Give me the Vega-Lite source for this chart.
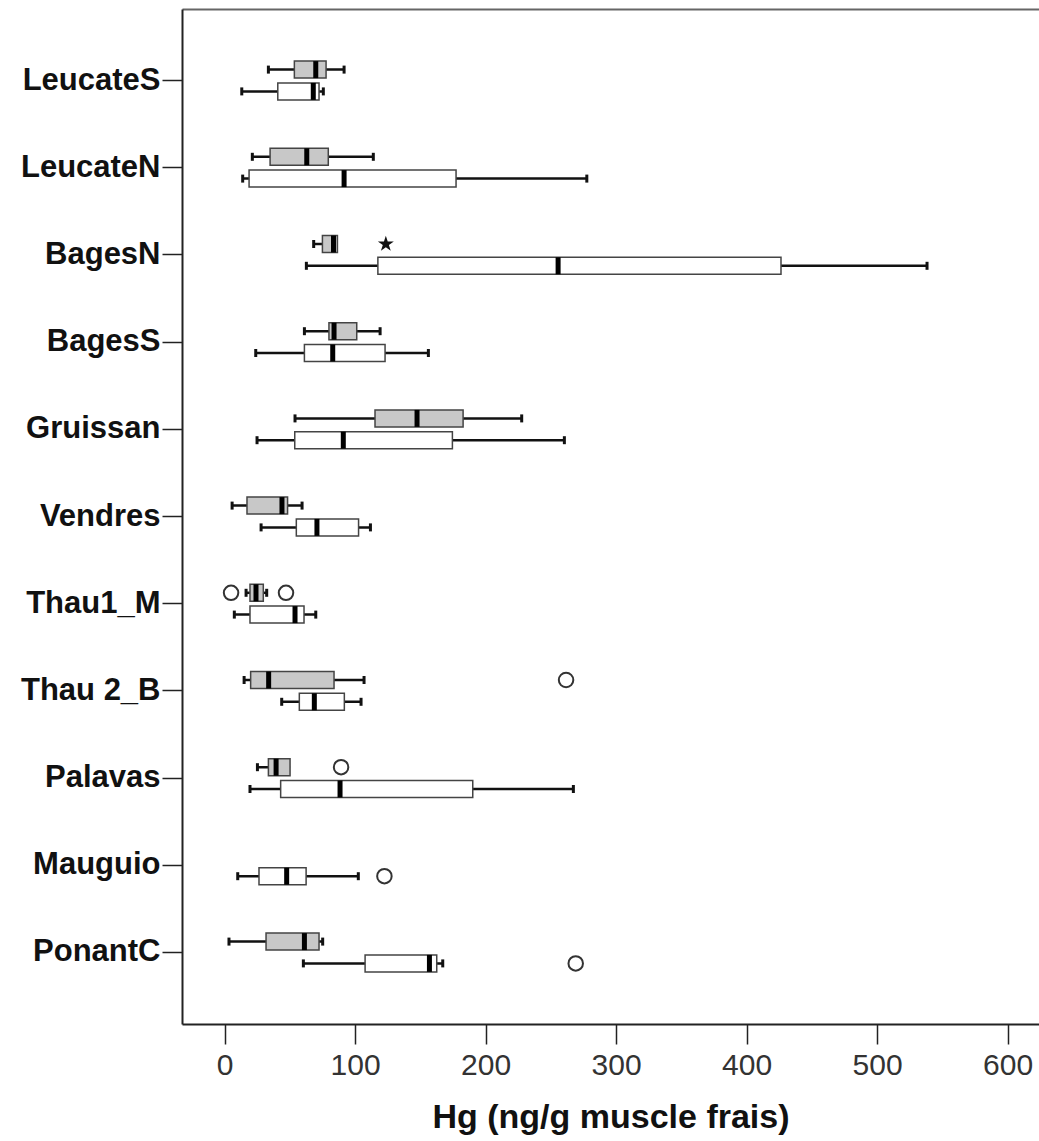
{
  "$schema": "https://vega.github.io/schema/vega-lite/v6.json",
  "width": 857,
  "height": 1015,
  "autosize": "none",
  "padding": {"left": 182, "top": 9, "right": 0, "bottom": 117},
  "background": "white",
  "config": {
    "view": {"stroke": null},
    "axis": {"grid": false}
  },
  "datasets": {
    "boxes": [
      {"site": "LeucateS", "g": "1", "lo": 33.6, "q1": 53.5, "med": 69.9, "q3": 77.8, "hi": 91.6},
      {"site": "LeucateS", "g": "2", "lo": 13.2, "q1": 40.8, "med": 68.0, "q3": 72.4, "hi": 75.7},
      {"site": "LeucateN", "g": "1", "lo": 21.3, "q1": 34.9, "med": 63.0, "q3": 79.5, "hi": 114.0},
      {"site": "LeucateN", "g": "2", "lo": 13.9, "q1": 18.8, "med": 91.6, "q3": 177.4, "hi": 277.6},
      {"site": "BagesN", "g": "1", "lo": 68.3, "q1": 75.0, "med": 83.5, "q3": 86.5, "hi": 86.5},
      {"site": "BagesN", "g": "2", "lo": 62.7, "q1": 117.5, "med": 255.6, "q3": 426.4, "hi": 538.3},
      {"site": "BagesS", "g": "1", "lo": 61.2, "q1": 80.0, "med": 83.9, "q3": 101.3, "hi": 119.2},
      {"site": "BagesS", "g": "2", "lo": 23.9, "q1": 61.2, "med": 82.9, "q3": 123.0, "hi": 156.2},
      {"site": "Gruissan", "g": "1", "lo": 54.0, "q1": 115.3, "med": 147.5, "q3": 182.8, "hi": 227.7},
      {"site": "Gruissan", "g": "2", "lo": 24.9, "q1": 53.8, "med": 91.0, "q3": 174.6, "hi": 260.4},
      {"site": "Vendres", "g": "1", "lo": 5.8, "q1": 17.2, "med": 44.0, "q3": 48.3, "hi": 59.4},
      {"site": "Vendres", "g": "2", "lo": 28.0, "q1": 55.0, "med": 70.8, "q3": 102.7, "hi": 111.8},
      {"site": "Thau1_M", "g": "1", "lo": 16.5, "q1": 19.5, "med": 24.1, "q3": 29.7, "hi": 32.3},
      {"site": "Thau1_M", "g": "2", "lo": 7.5, "q1": 19.5, "med": 54.0, "q3": 60.9, "hi": 69.9},
      {"site": "Thau 2_B", "g": "1", "lo": 15.0, "q1": 20.0, "med": 33.8, "q3": 83.9, "hi": 106.9},
      {"site": "Thau 2_B", "g": "2", "lo": 43.8, "q1": 57.3, "med": 68.8, "q3": 91.8, "hi": 104.6},
      {"site": "Palavas", "g": "1", "lo": 25.2, "q1": 33.6, "med": 39.5, "q3": 50.2, "hi": 50.2},
      {"site": "Palavas", "g": "2", "lo": 19.5, "q1": 43.0, "med": 88.5, "q3": 190.2, "hi": 267.3},
      {"site": "Mauguio", "g": "2", "lo": 10.1, "q1": 26.4, "med": 47.6, "q3": 62.5, "hi": 102.5},
      {"site": "PonantC", "g": "1", "lo": 3.4, "q1": 31.8, "med": 61.2, "q3": 72.4, "hi": 75.2},
      {"site": "PonantC", "g": "2", "lo": 60.4, "q1": 107.7, "med": 157.0, "q3": 162.6, "hi": 167.2}
    ],
    "outliers": [
      {"site": "Thau1_M", "g": "1", "v": 5.0},
      {"site": "Thau1_M", "g": "1", "v": 47.1},
      {"site": "Thau 2_B", "g": "1", "v": 261.7},
      {"site": "Palavas", "g": "1", "v": 89.3},
      {"site": "Mauguio", "g": "2", "v": 122.5},
      {"site": "PonantC", "g": "2", "v": 269.1}
    ],
    "extremes": [
      {"site": "BagesN", "g": "1", "v": 123.6}
    ]
  },
  "encoding": {
    "y": {
      "field": "site",
      "type": "nominal",
      "sort": ["LeucateS", "LeucateN", "BagesN", "BagesS", "Gruissan", "Vendres", "Thau1_M", "Thau 2_B", "Palavas", "Mauguio", "PonantC"],
      "scale": {"paddingInner": 0, "paddingOuter": 0.32},
      "axis": {
        "title": null,
        "tickSize": 20,
        "tickWidth": 1.5,
        "tickColor": "#222",
        "domainColor": "#222",
        "domainWidth": 2,
        "labelFont": "Liberation Sans",
        "labelFontWeight": "bold",
        "labelFontSize": 31,
        "labelColor": "#111",
        "labelPadding": 2
      }
    },
    "yOffset": {
      "field": "g",
      "type": "nominal",
      "scale": {"domain": ["1", "2"], "paddingInner": 0, "paddingOuter": 1.079}
    }
  },
  "resolve": {"axis": {"x": "independent"}},
  "layer": [
    {
      "data": {"name": "boxes"},
      "mark": {"type": "rule", "color": "#111", "strokeWidth": 2.5},
      "encoding": {
        "x": {
          "field": "lo",
          "type": "quantitative",
          "scale": {"domain": [-32.6, 624.1], "nice": false, "zero": false},
          "axis": {
            "orient": "bottom",
            "values": [0, 100, 200, 300, 400, 500, 600],
            "tickSize": 20,
            "tickWidth": 1.5,
            "tickColor": "#222",
            "domainColor": "#222",
            "domainWidth": 2,
            "labelFont": "Liberation Sans",
            "labelFontSize": 30,
            "labelColor": "#333",
            "labelPadding": 6,
            "title": "Hg (ng/g muscle frais)",
            "titleFont": "Liberation Sans",
            "titleFontWeight": "bold",
            "titleFontSize": 34,
            "titleColor": "#111",
            "titlePadding": 20
          }
        },
        "x2": {"field": "hi"}
      }
    },
    {
      "data": {"name": "boxes"},
      "mark": {"type": "bar", "size": 17, "stroke": "#444", "strokeWidth": 1.5},
      "encoding": {
        "x": {
          "field": "q1",
          "type": "quantitative",
          "axis": {"orient": "top", "labels": false, "ticks": false, "title": null, "domainColor": "#666", "domainWidth": 2}
        },
        "x2": {"field": "q3"},
        "fill": {"field": "g", "type": "nominal", "scale": {"domain": ["1", "2"], "range": ["#c8c8c8", "#ffffff"]}, "legend": null}
      }
    },
    {
      "data": {"name": "boxes"},
      "mark": {"type": "tick", "color": "#000", "size": 17, "thickness": 5, "opacity": 1},
      "encoding": {
        "x": {"field": "med", "type": "quantitative", "axis": null}
      }
    },
    {
      "data": {"name": "boxes"},
      "mark": {"type": "tick", "color": "#111", "size": 8, "thickness": 3, "opacity": 1},
      "encoding": {
        "x": {"field": "lo", "type": "quantitative", "axis": null}
      }
    },
    {
      "data": {"name": "boxes"},
      "transform": [{"filter": "datum.hi > datum.q3"}],
      "mark": {"type": "tick", "color": "#111", "size": 8, "thickness": 3, "opacity": 1},
      "encoding": {
        "x": {"field": "hi", "type": "quantitative", "axis": null}
      }
    },
    {
      "data": {"name": "outliers"},
      "mark": {"type": "point", "shape": "circle", "filled": false, "stroke": "#333", "strokeWidth": 2, "size": 210, "opacity": 1},
      "encoding": {
        "x": {"field": "v", "type": "quantitative", "axis": null}
      }
    },
    {
      "data": {"name": "extremes"},
      "mark": {"type": "point", "shape": "M0,-1L0.2245,-0.309L0.951,-0.309L0.363,0.118L0.588,0.809L0,0.382L-0.588,0.809L-0.363,0.118L-0.951,-0.309L-0.2245,-0.309Z", "filled": true, "color": "#111", "size": 280, "opacity": 1},
      "encoding": {
        "x": {"field": "v", "type": "quantitative", "axis": null}
      }
    }
  ]
}
